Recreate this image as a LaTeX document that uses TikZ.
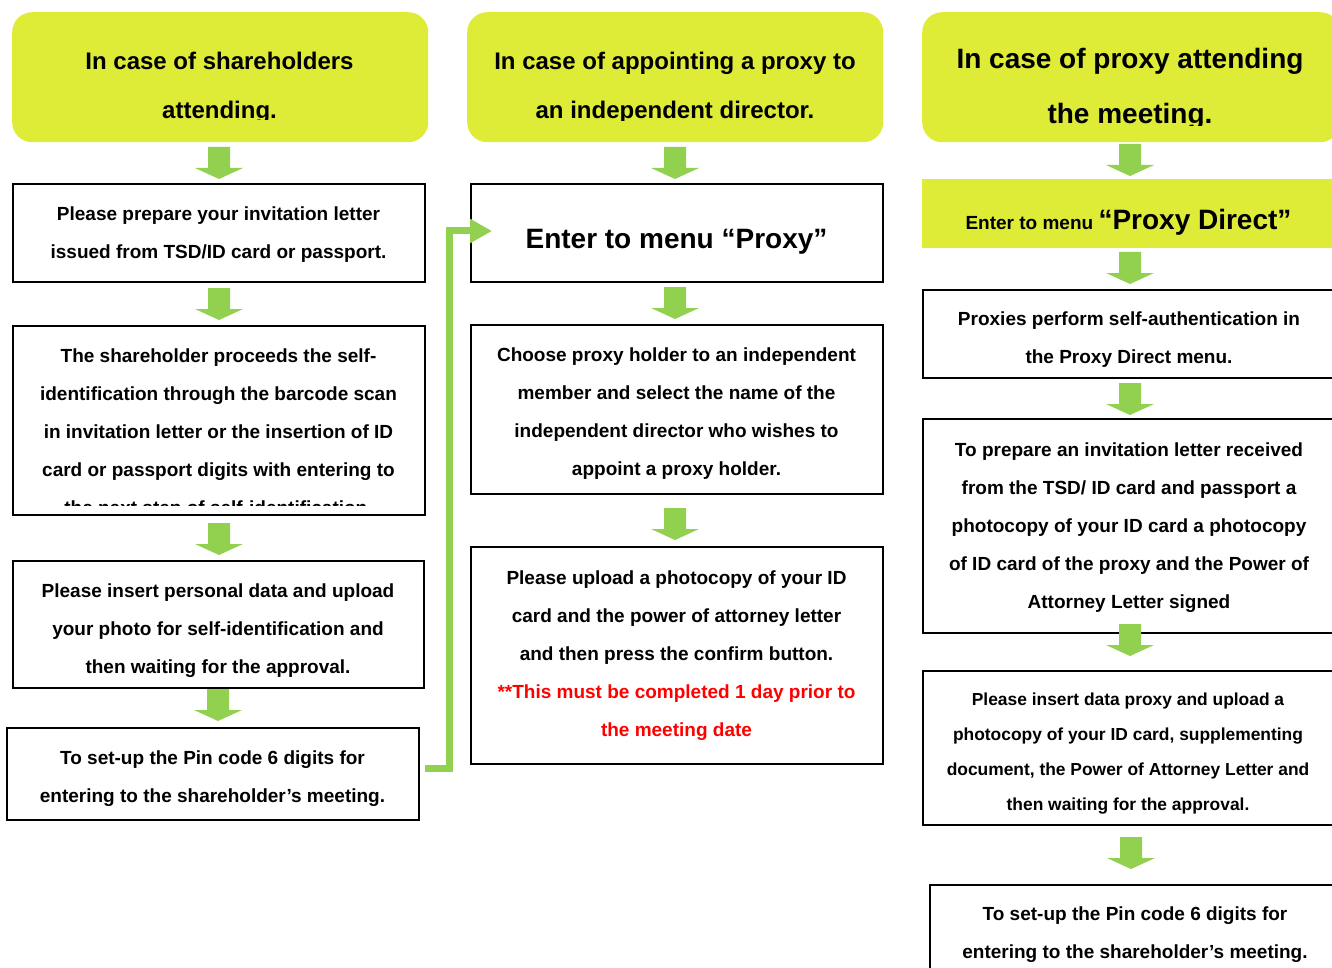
\documentclass[tikz,border=0pt]{standalone}
\usepackage{fontspec}
\setmainfont{Liberation Sans}
\usetikzlibrary{arrows.meta}
\definecolor{ylw}{RGB}{222,235,55}
\definecolor{grn}{RGB}{146,208,80}
\begin{document}
\begin{tikzpicture}[x=1pt,y=-1pt,
  box/.style={draw=black, line width=1.8pt, fill=white, inner sep=0pt, anchor=north west},
  ybox/.style={fill=ylw, inner sep=0pt, anchor=north west},
  body/.style={font=\fontsize{19}{38}\selectfont\bfseries, align=center, inner sep=0pt},
  ttl/.style={font=\fontsize{24}{49}\selectfont\bfseries, align=center, inner sep=0pt},
  gline/.style={draw=grn, line width=7pt},
  garrow/.pic={\fill[grn] (-11,0) -- (11,0) -- (11,21) -- (24,21) -- (0,32) -- (-24,21) -- (-11,21) -- cycle;}
]
\useasboundingbox (0,0) rectangle (1332,968);
\clip (0,0) rectangle (1332,968);

% ---------- left column ----------
\node[ybox, rounded corners=20pt, minimum width=416pt, minimum height=130pt] (TL) at (12,12) {};
\begin{scope}
  \clip (12,12) rectangle (428,119.5);
  \node[ttl] (TLt) at (219.5,88) {In case of shareholders\\attending.};
\end{scope}
\node[box, minimum width=412pt, minimum height=98pt] (L1) at (12,183) {};
\node[body] (L1t) at (218.5,235) {Please prepare your invitation letter\\issued from TSD/ID card or passport.};
\node[box, minimum width=412pt, minimum height=189pt] (L2) at (12,325) {};
\begin{scope}
  \clip (14,327) rectangle (423,505);
  \node[body] (L2t) at (218.5,434) {The shareholder proceeds the self-\\identification through the barcode scan\\in invitation letter or the insertion of ID\\card or passport digits with entering to\\the next step of self-identification.};
\end{scope}
\node[box, minimum width=411pt, minimum height=127pt] (L3) at (12,560) {};
\node[body] (L3t) at (218,631) {Please insert personal data and upload\\your photo for self-identification and\\then waiting for the approval.};
\node[box, minimum width=412pt, minimum height=92pt] (L4) at (6,727) {};
\node[body] (L4t) at (212.5,778.5) {To set-up the Pin code 6 digits for\\entering to the shareholder’s meeting.};

\pic at (219,147) {garrow};
\pic at (219,288) {garrow};
\pic at (219,523) {garrow};
\pic at (218,689) {garrow};

% ---------- middle column ----------
\node[ybox, rounded corners=20pt, minimum width=416pt, minimum height=130pt] (TM) at (467,12) {};
\begin{scope}
  \clip (467,12) rectangle (883,120.5);
  \node[ttl] (TMt) at (675,88) {In case of appointing a proxy to\\an independent director.};
\end{scope}
\node[box, minimum width=412pt, minimum height=98pt] (M1) at (470,183) {};
\node[font=\fontsize{28}{34}\selectfont\bfseries, inner sep=0pt] (M1t) at (676.5,242) {Enter to menu “Proxy”};
\node[box, minimum width=412pt, minimum height=169pt] (M2) at (470,324) {};
\node[body] (M2t) at (676.5,413.5) {Choose proxy holder to an independent\\member and select the name of the\\independent director who wishes to\\appoint a proxy holder.};
\node[box, minimum width=412pt, minimum height=217pt] (M3) at (470,546) {};
\node[body] (M3t) at (676.5,655.5) {Please upload a photocopy of your ID\\card and the power of attorney letter\\and then press the confirm button.\\\textcolor{red}{**This must be completed 1 day prior to}\\\textcolor{red}{the meeting date}};

\pic at (675,147) {garrow};
\pic at (675,287) {garrow};
\pic at (675,508) {garrow};

% ---------- right column ----------
\node[ybox, rounded corners=20pt, minimum width=418pt, minimum height=130pt] (TR) at (922,12) {};
\begin{scope}
  \clip (922,12) rectangle (1340,125.5);
  \node[font=\fontsize{28}{55}\selectfont\bfseries, align=center, inner sep=0pt] (TRt) at (1130,89) {In case of proxy attending\\the meeting.};
\end{scope}
\node[ybox, minimum width=416pt, minimum height=69pt] (RY) at (922,179) {};
\node[inner sep=0pt, font=\bfseries] (RYt) at (1128.5,222) {\fontsize{19}{23}\selectfont Enter to menu \fontsize{28}{34}\selectfont “Proxy Direct”};
\node[box, minimum width=416pt, minimum height=88pt] (R1) at (922,289) {};
\node[body] (R1t) at (1129,340) {Proxies perform self-authentication in\\the Proxy Direct menu.};
\node[box, minimum width=416pt, minimum height=214pt] (R2) at (922,418) {};
\node[body] (R2t) at (1129,527.5) {To prepare an invitation letter received\\from the TSD/ ID card and passport a\\photocopy of your ID card a photocopy\\of ID card of the proxy and the Power of\\Attorney Letter signed};
\node[box, minimum width=416pt, minimum height=154pt] (R3) at (922,670) {};
\node[font=\fontsize{17.4}{34.7}\selectfont\bfseries, align=center, inner sep=0pt] (R3t) at (1128,753.5) {Please insert data proxy and upload a\\photocopy of your ID card, supplementing\\document, the Power of Attorney Letter and\\then waiting for the approval.};
\node[box, minimum width=412pt, minimum height=110pt] (R4) at (929,884) {};
\node[body] (R4t) at (1135,935) {To set-up the Pin code 6 digits for\\entering to the shareholder’s meeting.};

\pic at (1130,144) {garrow};
\pic at (1130,252) {garrow};
\pic at (1130,383) {garrow};
\pic at (1130,624) {garrow};
\pic at (1131,837) {garrow};

% ---------- connector left -> middle ----------
\coordinate (c0) at (425,768);
\coordinate (c1) at (449,231);
\coordinate (tipM) at (492,231);
\draw[gline, -{Triangle[length=22pt,width=23pt]}] (c0) -| (c1) -- (tipM);
\end{tikzpicture}
\end{document}
